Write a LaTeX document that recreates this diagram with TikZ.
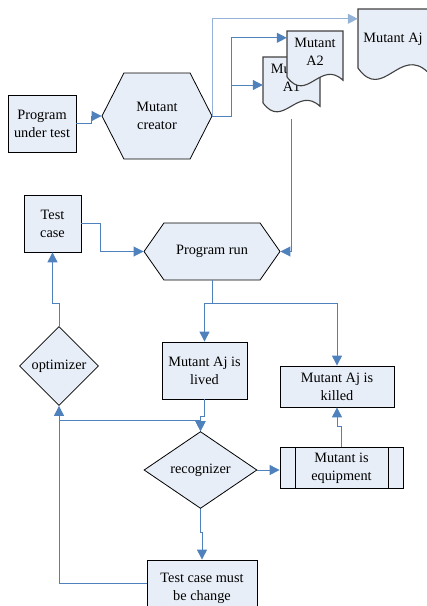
\documentclass[tikz,border=0pt]{standalone}
\usepackage{fontspec}
\setmainfont{Liberation Serif}
\usetikzlibrary{shapes.geometric,shapes.symbols,arrows.meta}

\definecolor{boxfill}{HTML}{E8EEF7}
\definecolor{flowblue}{HTML}{4F81BD}
\definecolor{paleblue}{HTML}{95B3D7}

\tikzset{
  box/.style={draw=black,line width=0.8pt,fill=boxfill,align=center,inner sep=1pt},
  hexa/.style={box,signal,signal to=west and east},
  choice/.style={box,diamond},
  doctext/.style={align=center,inner sep=1pt},
  docline/.style={draw=black!75,line width=1.1pt,fill=boxfill},
  flow/.style={flowblue,line width=1pt,-{Triangle[length=10pt,width=10pt]}},
  subproc/.style={box,path picture={
      \draw[line width=0.8pt] ([xshift=15pt]path picture bounding box.north west) -- ([xshift=15pt]path picture bounding box.south west);
      \draw[line width=0.8pt] ([xshift=-15pt]path picture bounding box.north east) -- ([xshift=-15pt]path picture bounding box.south east);}}
}

% document outline: center x, center y, width, height
\newcommand{\docshape}[4]{%
  \filldraw[docline] (#1-#3/2,#2-#4/2) -- (#1+#3/2,#2-#4/2) -- (#1+#3/2,#2-#4/2+0.88*#4)
    .. controls (#1-#3/2+0.6*#3,#2-#4/2+0.5*#4) and (#1-#3/2+0.35*#3,#2-#4/2+1.3*#4) ..
    (#1-#3/2,#2-#4/2+0.82*#4) -- cycle;}

\begin{document}
\begin{tikzpicture}[x=1pt,y=-1pt,font=\fontsize{14.3}{18}\selectfont]
\useasboundingbox (0,0) rectangle (427,606);

% top row
\node[box,minimum width=68pt,minimum height=57pt] (put) at (42,123.5) {Program\\under test};
\node[hexa,minimum width=110pt,minimum height=86pt,signal pointer angle=126] (creator) at (157,116) {Mutant\\creator};

% mutants
\docshape{291.5}{85}{57}{56}
\node[doctext,minimum width=57pt,minimum height=56pt,text depth=14pt] (a1) at (291.5,85) {Mutant\\A1};
\docshape{315}{59}{56}{56}
\node[doctext,minimum width=56pt,minimum height=56pt,text depth=14pt] (a2) at (315,59) {Mutant\\A2};
\docshape{393}{45}{70}{72}
\node[doctext,minimum width=70pt,minimum height=72pt,text depth=14pt] (aj) at (393,45) {Mutant Aj};

\draw[flow] (put.east) -- ++(15,0) |- (creator.west);
\draw[flow] (creator.east) -- ++(19,0) |- (a1.west);
\draw[flow] (creator.east) -- ++(19,0) |- ([yshift=-7pt]a2.north west);
\draw[flow,paleblue] (creator.east) |- ([yshift=-10pt]aj.north west);

% middle
\node[box,minimum width=57pt,minimum height=57pt] (tc) at (52.5,223.5) {Test\\case};
\node[hexa,minimum width=136pt,minimum height=57pt,signal pointer angle=110] (run) at (212,251.5) {Program run};
\node[box,minimum width=85pt,minimum height=57pt] (lived) at (204.5,370.5) {Mutant Aj is\\lived};
\node[box,minimum width=114pt,minimum height=41pt] (killed) at (337,386.5) {Mutant Aj is\\killed};
\node[choice,minimum width=79pt,minimum height=79pt] (opt) at (59,366) {optimizer};

\draw[flow] ([yshift=-6pt]a1.south) |- (run.east);
\draw[flow] (tc.east) -- ++(19,0) |- (run.west);
\draw[flow] (run.south) -- ++(0,23) -| (lived.north);
\draw[flow] (run.south) -- ++(0,23) -| (killed.north);
\draw[flow] (opt.north) -- ++(0,-23) -| (tc.south);

% bottom
\node[choice,minimum width=113pt,minimum height=75pt] (rec) at (200.5,470) {recognizer};
\node[subproc,minimum width=123pt,minimum height=41pt] (equip) at (341.5,468) {Mutant is\\equipment};
\node[box,minimum width=110pt,minimum height=57pt] (tcm) at (202,588.5) {Test case must\\be change};

\draw[flow] (lived.south) -- ++(0,17) -| (rec.north);
\draw[flow] (opt.south) ++(0,15) -| (rec.north);
\draw[flow] (rec.east) -- (rec.east -| equip.west);
\draw[flow] (equip.north) -- ++(0,-21) -| (killed.south);
\draw[flow] (rec.south) -- ++(0,24) -| (tcm.north);
\draw[flow] ([yshift=5pt]tcm.west) -| (opt.south);
\end{tikzpicture}
\end{document}
